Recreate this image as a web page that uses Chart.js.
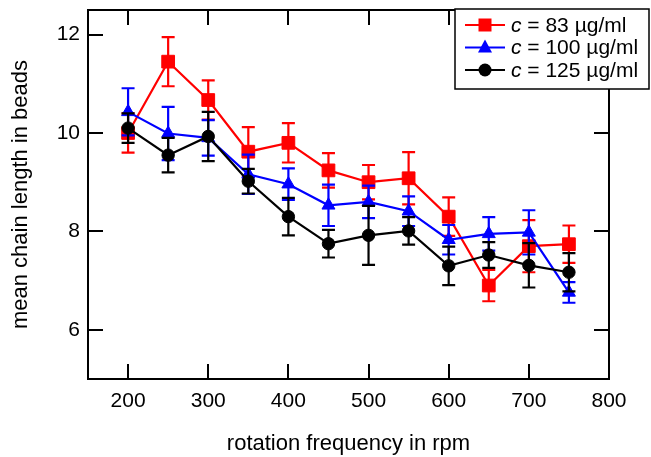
<!DOCTYPE html>
<html>
<head>
<meta charset="utf-8">
<script src="https://cdn.jsdelivr.net/npm/chart.js@4.4.1/dist/chart.umd.min.js"></script>
<style>
  html, body { margin: 0; padding: 0; background: #fff; }
  #wrap { width: 651px; height: 457px; }
</style>
</head>
<body>
<div id="wrap"><canvas id="cvs" width="651" height="457"></canvas></div>
<script>
//-------------------------------------------------------------------
// data
//-------------------------------------------------------------------
const rpm = [200, 250, 300, 350, 400, 450, 500, 550, 600, 650, 700, 750];

const len83  = [10.0, 11.45, 10.67, 9.62, 9.8, 9.24, 9.0, 9.08, 8.3, 6.9, 7.7, 7.74];
const err83  = [0.4, 0.5, 0.4, 0.5, 0.4, 0.35, 0.35, 0.53, 0.39, 0.32, 0.53, 0.38];

const len100 = [10.43, 9.99, 9.9, 9.16, 8.96, 8.53, 8.6, 8.41, 7.83, 7.95, 7.98, 6.76];
const err100 = [0.48, 0.54, 0.36, 0.4, 0.32, 0.42, 0.33, 0.3, 0.3, 0.34, 0.45, 0.21];

const len125 = [10.1, 9.55, 9.93, 9.02, 8.3, 7.75, 7.92, 8.01, 7.3, 7.52, 7.31, 7.17];
const err125 = [0.3, 0.35, 0.5, 0.25, 0.38, 0.28, 0.6, 0.28, 0.39, 0.26, 0.45, 0.39];

const seriesNames = ['83', '100', '125'];
const xTicks = [200, 300, 400, 500, 600, 700, 800];
const yTicks = [6, 8, 10, 12];

const FONT = '"Liberation Sans", Arial, sans-serif';

function pts(ys) {
  return rpm.map((x, i) => ({ x: x, y: ys[i] }));
}

//-------------------------------------------------------------------
// plugin: error bars, boxed frame with inward ticks, legend
//-------------------------------------------------------------------
const igorStyle = {
  id: 'igorStyle',

  beforeDatasetDraw(chart, args) {
    const ds = chart.data.datasets[args.index];
    if (!ds.errors) return;
    const ctx = chart.ctx;
    const xs = chart.scales.x;
    const ys = chart.scales.y;
    const cap = 6.5;

    ctx.save();
    ctx.strokeStyle = ds.borderColor;
    ctx.lineWidth = 2.2;
    ds.data.forEach((p, i) => {
      const e = ds.errors[i];
      const px = xs.getPixelForValue(p.x);
      const top = ys.getPixelForValue(p.y + e);
      const bot = ys.getPixelForValue(p.y - e);
      ctx.beginPath();
      ctx.moveTo(px, top);
      ctx.lineTo(px, bot);
      ctx.moveTo(px - cap, top);
      ctx.lineTo(px + cap, top);
      ctx.moveTo(px - cap, bot);
      ctx.lineTo(px + cap, bot);
      ctx.stroke();
    });
    ctx.restore();
  },

  afterDraw(chart) {
    const ctx = chart.ctx;
    const a = chart.chartArea;
    const xs = chart.scales.x;
    const ys = chart.scales.y;
    const tl = 15;

    // frame
    ctx.save();
    ctx.strokeStyle = '#000';
    ctx.lineWidth = 2;
    ctx.strokeRect(a.left, a.top, a.right - a.left, a.bottom - a.top);

    // inward ticks on all four sides
    ctx.beginPath();
    xTicks.forEach(v => {
      const px = Math.round(xs.getPixelForValue(v));
      ctx.moveTo(px, a.bottom);
      ctx.lineTo(px, a.bottom - tl);
      ctx.moveTo(px, a.top);
      ctx.lineTo(px, a.top + tl);
    });
    yTicks.forEach(v => {
      const py = Math.round(ys.getPixelForValue(v));
      ctx.moveTo(a.left, py);
      ctx.lineTo(a.left + tl, py);
      ctx.moveTo(a.right, py);
      ctx.lineTo(a.right - tl, py);
    });
    ctx.stroke();
    ctx.restore();

    this._drawLegend(chart);
  },

  _drawLegend(chart) {
    const ctx = chart.ctx;
    const box = { x: 455, y: 9, w: 194, h: 80 };
    const rowH = 22.5;

    ctx.save();
    ctx.fillStyle = '#fff';
    ctx.fillRect(box.x, box.y, box.w, box.h);
    ctx.strokeStyle = '#000';
    ctx.lineWidth = 1.5;
    ctx.strokeRect(box.x, box.y, box.w, box.h);

    chart.data.datasets.forEach((ds, i) => {
      const cy = box.y + 16 + i * rowH;
      ctx.strokeStyle = ds.borderColor;
      ctx.lineWidth = 2.2;
      ctx.beginPath();
      ctx.moveTo(box.x + 10, cy);
      ctx.lineTo(box.x + 50, cy);
      ctx.stroke();
      this._marker(ctx, ds.pointStyle, box.x + 30, cy, ds.borderColor);

      ctx.fillStyle = '#000';
      ctx.textBaseline = 'middle';
      ctx.textAlign = 'left';
      let tx = box.x + 56;
      ctx.font = 'italic 21px ' + FONT;
      ctx.fillText('c', tx, cy + 1);
      tx += ctx.measureText('c').width;
      ctx.font = '21px ' + FONT;
      ctx.fillText(' = ' + seriesNames[i] + ' \u00b5g/ml', tx, cy + 1);
    });
    ctx.restore();
  },

  _marker(ctx, style, x, y, color) {
    ctx.fillStyle = color;
    ctx.beginPath();
    if (style === 'rect') {
      ctx.rect(x - 6.5, y - 6.5, 13, 13);
    } else if (style === 'triangle') {
      ctx.moveTo(x, y - 8);
      ctx.lineTo(x + 7, y + 5);
      ctx.lineTo(x - 7, y + 5);
      ctx.closePath();
    } else {
      ctx.arc(x, y, 6.5, 0, Math.PI * 2);
    }
    ctx.fill();
  }
};

//-------------------------------------------------------------------
// chart
//-------------------------------------------------------------------
function series(label, ys, errs, color, style, radius, order) {
  return {
    label: label,
    data: pts(ys),
    errors: errs,
    borderColor: color,
    backgroundColor: color,
    borderWidth: 2.2,
    pointStyle: style,
    pointRadius: radius,
    pointHoverRadius: radius,
    pointBorderWidth: 1,
    tension: 0,
    order: order
  };
}

const tickFont = { family: FONT, size: 21 };
const titleFont = { family: FONT, size: 22 };

new Chart(document.getElementById('cvs').getContext('2d'), {
  type: 'line',
  data: {
    datasets: [
      series('c = 83 \u00b5g/ml', len83, err83, '#ff0000', 'rect', 9, 3),
      series('c = 100 \u00b5g/ml', len100, err100, '#0000ff', 'triangle', 7.5, 2),
      series('c = 125 \u00b5g/ml', len125, err125, '#000000', 'circle', 6.2, 1)
    ]
  },
  options: {
    responsive: false,
    animation: false,
    devicePixelRatio: 1,
    layout: { padding: { top: 10, right: 42, left: 0, bottom: 0 } },
    plugins: {
      legend: { display: false },
      tooltip: { enabled: false }
    },
    scales: {
      x: {
        type: 'linear',
        min: 150,
        max: 800,
        afterBuildTicks: s => { s.ticks = xTicks.map(v => ({ value: v })); },
        afterFit: s => {
          s.height = 78;
          s.paddingLeft = 0;
          s.paddingRight = 0;
        },
        grid: { display: false, drawTicks: false },
        border: { display: false },
        ticks: { color: '#000', font: tickFont, padding: 10 },
        title: {
          display: true,
          text: 'rotation frequency in rpm',
          color: '#000',
          font: titleFont,
          padding: { top: 0, bottom: 0 }
        }
      },
      y: {
        type: 'linear',
        min: 5,
        max: 12.5,
        afterBuildTicks: s => { s.ticks = yTicks.map(v => ({ value: v })); },
        afterFit: s => {
          s.width = 88;
          s.paddingTop = 0;
          s.paddingBottom = 0;
        },
        grid: { display: false, drawTicks: false },
        border: { display: false },
        ticks: { color: '#000', font: tickFont, padding: 8 },
        title: {
          display: true,
          text: 'mean chain length in beads',
          color: '#000',
          font: titleFont,
          padding: { top: 8, bottom: 0 }
        }
      }
    }
  },
  plugins: [igorStyle]
});
</script>
</body>
</html>
